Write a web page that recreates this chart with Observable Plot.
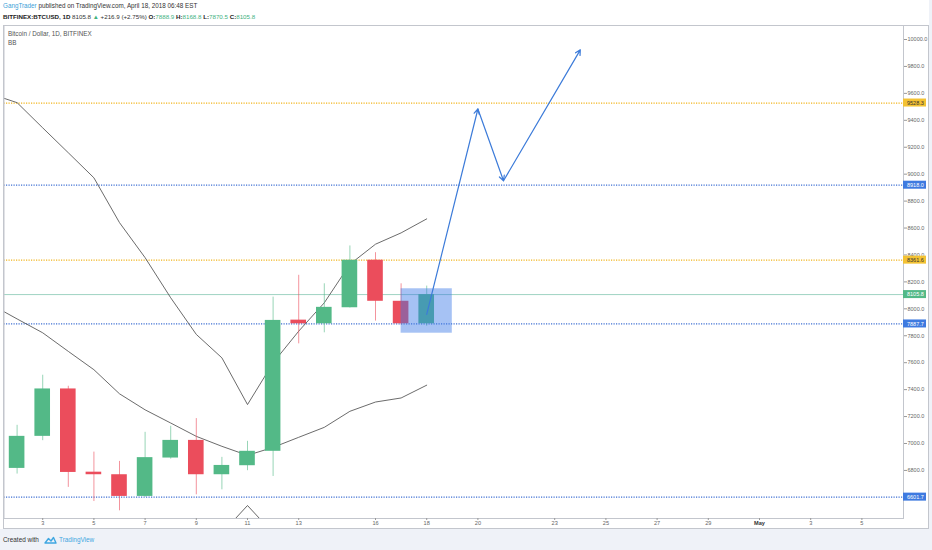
<!DOCTYPE html>
<html>
<head>
<meta charset="utf-8">
<script src="https://cdn.jsdelivr.net/npm/d3@7"></script>
<script src="https://cdn.jsdelivr.net/npm/@observablehq/plot@0.6"></script>
<style>
html,body{margin:0;padding:0;background:#fff;}
body{width:932px;height:550px;position:relative;overflow:hidden;font-family:"Liberation Sans",Arial,sans-serif;}
.hdr{position:absolute;left:3px;white-space:nowrap;color:#333;}
#hdr1{top:1px;font-size:6.3px;line-height:10px;}
#hdr2{top:12px;font-size:6.2px;line-height:10px;}
.blue{color:#3d9fd8;}
.grn{color:#3fb27f;}
b{font-weight:bold;color:#222;}
#chart{position:absolute;left:0;top:25px;}
#outer{position:absolute;left:3px;top:25px;width:926px;height:504px;border:1px solid #c3c6cd;box-sizing:border-box;pointer-events:none;}
#footer{position:absolute;left:0;top:529px;width:932px;height:21px;background:#eff2f8;}
#footer span{position:absolute;top:6px;font-size:6.4px;line-height:10px;white-space:nowrap;}
#rstrip{position:absolute;left:929px;top:0;width:3px;height:550px;background:#eff2f8;}
</style>
</head>
<body>
<div id="hdr1" class="hdr"><span class="blue">GangTrader</span> published on TradingView.com, April 18, 2018 06:48 EST</div>
<div id="hdr2" class="hdr"><b>BITFINEX:BTCUSD, 1D</b> 8105.8 <span class="grn">▲</span> +216.9 (+2.75%) <b>O:</b><span class="grn">7888.9</span> <b>H:</b><span class="grn">8168.8</span> <b>L:</b><span class="grn">7870.5</span> <b>C:</b><span class="grn">8105.8</span></div>
<div id="chart"></div>
<div id="outer"></div>
<div id="rstrip"></div>
<div id="footer">
  <span style="left:3px;color:#333;">Created with</span>
  <svg style="position:absolute;left:44px;top:7px" width="13" height="8" viewBox="0 0 13 8"><path d="M1 7 L4.5 2.5 L7 5 L9.5 1.5 L12 7 Z" fill="none" stroke="#3fa7e1" stroke-width="1.4" stroke-linejoin="round"/></svg>
  <span style="left:59px;color:#3fa7e1;">TradingView</span>
</div>
<script>
// ---- data (April 2018, daily candles, BITFINEX:BTCUSD) ----
const candleDays = [2,3,4,5,6,7,8,9,10,11,12,13,14,15,16,17,18];
const opens  = [6815,7053,7405,6787,6768,6607,6892,7023,6768,6835,6942,7916,7889,8008,8361,8056,7888.9];
const highs  = [7135,7507,7425,6936,6867,7083,7128,7185,6897,7016,8087,8249,8186,8467,8417,8186,8168.8];
const lows   = [6773,7021,6674,6569,6500,6600,6884,6619,6656,6798,6755,7740,7822,8006,7909,7880,7870.5];
const closes = [7053,7405,6785,6768,6607,6895,7023,6768,6837,6942,7914,7889,8011,8361,8056,7889,8105.8];

// Bollinger bands (upper / lower) as drawn
const bbDays  = [1,2,3,4,5,6,7,8,9,10,11,12,13,14,15,16,17,18];
const bbUpper = [9594,9531,9344,9159,8973,8640,8380,8082,7810,7636,7289,7599,7834,8045,8331,8480,8564,8668];
const bbLower = [8030,7925,7822,7684,7548,7369,7250,7152,7053,6979,6912,6971,7046,7120,7239,7308,7338,7433];

// horizontal levels
const levelValues = [9528.3, 8918.0, 8361.6, 7887.7, 6601.7];
const levelKinds  = ["yellow","blue","yellow","blue","blue"];
const lastPrice = 8105.8;

// highlighted zone
const zoneDays = [17, 19];
const zonePrices = [7819, 8149];

// projected path (arrows)
const pathDays   = [18, 20, 21, 24];
const pathPrices = [7959, 9484, 8951, 9923];

// marker at the bottom
const markerDays = [11];

// time axis ticks
const xTickLabels = ["2018-04-03","2018-04-05","2018-04-07","2018-04-09","2018-04-11","2018-04-13","2018-04-16","2018-04-18","2018-04-20","2018-04-23","2018-04-25","2018-04-27","2018-04-29","2018-05-01","2018-05-03","2018-05-05"];
const yTicks = d3.range(6800, 10001, 200);

// ---- helpers ----
const dayMs = 864e5;
const base = Date.UTC(2018, 3, 1);
const at = (day) => new Date(base + (day - 1) * dayMs);

const GREEN = "#53b987", RED = "#eb4d5c";
const YEL_LINE = "#f2b51d", YEL_BOX = "#f3c233";
const BLUE_LINE = "#3f70d4", BLUE_BOX = "#3e7ae0";

const candles = candleDays.map((d, i) => ({
  date: at(d), o: opens[i], h: highs[i], l: lows[i], c: closes[i],
  col: closes[i] >= opens[i] ? GREEN : RED
}));
const bb = bbDays.map((d, i) => ({date: at(d), up: bbUpper[i], lo: bbLower[i]}));
const levels = levelValues.map((v, i) => ({v, kind: levelKinds[i]}));
const zone = [{x1: at(zoneDays[0]), x2: at(zoneDays[1]), y1: zonePrices[0], y2: zonePrices[1]}];
const segs = pathDays.slice(1).map((d, i) => ({
  x1: at(pathDays[i]), y1: pathPrices[i], x2: at(d), y2: pathPrices[i + 1]
}));
const labels = [
  ...levels.map(l => ({v: l.v, bg: l.kind === "yellow" ? YEL_BOX : BLUE_BOX, fg: l.kind === "yellow" ? "#333333" : "#ffffff"})),
  {v: lastPrice, bg: GREEN, fg: "#ffffff"}
];
const xTicks = xTickLabels.map(s => new Date(s));

const wideTri = {
  draw(ctx, size) {
    const s = Math.sqrt(size) / 2;
    ctx.moveTo(0, -s);
    ctx.lineTo(1.85 * s, s);
    ctx.lineTo(-1.85 * s, s);
    ctx.closePath();
  }
};

const W = 932, H = 504, MR = 29, MB = 11, ML = 3.5;
const plot = Plot.plot({
  width: W, height: H,
  marginLeft: ML, marginRight: MR, marginTop: 0, marginBottom: MB,
  style: {fontFamily: "Liberation Sans, Arial, sans-serif", fontSize: "5.6px", color: "#555", background: "#fff", overflow: "visible"},
  x: {type: "utc", domain: [at(1.488), at(36.625)]},
  y: {domain: [6443, 10104]},
  marks: [
    Plot.ruleY(levels, {y: "v", stroke: d => d.kind === "yellow" ? YEL_LINE : BLUE_LINE, strokeWidth: 1.3, strokeDasharray: "1.2,1.3"}),
    Plot.ruleY([lastPrice], {stroke: "#9fd3c3", strokeWidth: 1}),
    Plot.line(bb, {x: "date", y: "up", stroke: "#5a5a5a", strokeWidth: 0.9, clip: true}),
    Plot.line(bb, {x: "date", y: "lo", stroke: "#5a5a5a", strokeWidth: 0.9, clip: true}),
    Plot.ruleX(candles, {x: "date", y1: "l", y2: "h", stroke: "col", strokeOpacity: 0.6, strokeWidth: 1}),
    Plot.rect(candles, {
      x1: d => new Date(+d.date - 0.305 * dayMs), x2: d => new Date(+d.date + 0.305 * dayMs),
      y1: "o", y2: "c", fill: "col"
    }),
    Plot.rect(zone, {x1: "x1", x2: "x2", y1: "y1", y2: "y2", fill: "#3a77e6", fillOpacity: 0.45}),
    Plot.arrow(segs, {x1: "x1", y1: "y1", x2: "x2", y2: "y2", stroke: "#3c7bd9", strokeWidth: 1.2, headLength: 7, headAngle: 55}),
    Plot.dot(markerDays, {x: d => at(d), frameAnchor: "bottom", dy: -6.5, symbol: wideTri, r: 7.33, fill: "white", stroke: "#555", strokeWidth: 0.9, clip: true}),
    Plot.text(["Bitcoin / Dollar, 1D, BITFINEX"], {frameAnchor: "top-left", dx: 4, dy: 6, fontSize: 6.3, fill: "#555"}),
    Plot.text(["BB"], {frameAnchor: "top-left", dx: 4, dy: 15.5, fontSize: 6.3, fill: "#555"}),
    Plot.frame({stroke: "#c3c6cd"}),
    Plot.axisY({anchor: "right", ticks: yTicks, tickFormat: d => d.toFixed(1), tickSize: 3, tickPadding: 1, fontSize: 5.5, stroke: "#999", fill: "#666"}),
    Plot.axisX({ticks: xTicks, tickFormat: d => d.getUTCDate() === 1 ? "May" : String(d.getUTCDate()), tickSize: 2, tickPadding: 1, fontSize: 5.6, stroke: "#999", fill: "#666"}),
    Plot.text(labels, {y: "v", text: d => d.v.toFixed(1), frameAnchor: "right", textAnchor: "start", dx: 3.5, fill: "fg", fontSize: 5.5})
  ]
});
document.getElementById("chart").appendChild(plot);

// label boxes behind price labels, positioned through the plot's y scale
const yS = plot.scale("y");
const ns = "http://www.w3.org/2000/svg";
const boxG = document.createElementNS(ns, "g");
labels.forEach(l => {
  const r = document.createElementNS(ns, "rect");
  r.setAttribute("x", W - MR);
  r.setAttribute("width", 23);
  r.setAttribute("y", yS.apply(l.v) - 4);
  r.setAttribute("height", 8);
  r.setAttribute("fill", l.bg);
  boxG.appendChild(r);
});
// the price-label text group is the last mark group in the svg
const groups = Array.from(plot.children).filter(el => el.tagName.toLowerCase() === "g");
const lblGroup = groups[groups.length - 1];
plot.insertBefore(boxG, lblGroup);

// month name in bold
d3.select(plot).selectAll("text").filter(function(){ return this.textContent === "May"; })
  .attr("font-weight", "bold").attr("fill", "#333");
</script>
</body>
</html>
